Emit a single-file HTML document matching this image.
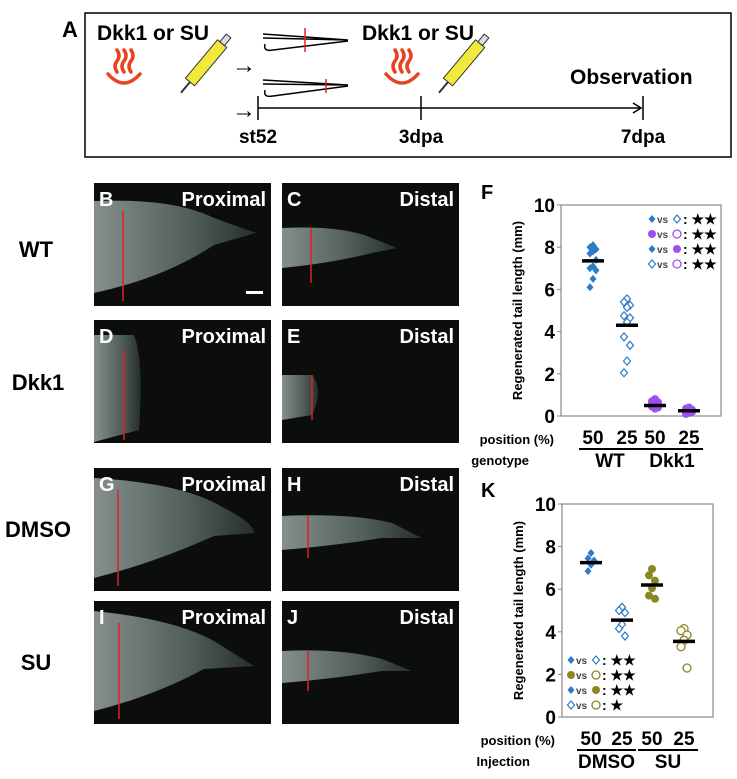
<!DOCTYPE html>
<html><head><meta charset="utf-8"><style>
body{margin:0;background:#fff;}
svg{display:block;font-family:"Liberation Sans",Arial,sans-serif;}
</style></head><body>
<svg id="fig" width="737" height="779" viewBox="0 0 737 779">
<defs>
<linearGradient id="tg" x1="0" x2="1" y1="0" y2="0"><stop offset="0" stop-color="#9aa6a4"/><stop offset="0.6" stop-color="#5d6a68"/><stop offset="1" stop-color="#2a3433"/></linearGradient>
</defs>
<g>
<text x="62" y="37" font-size="22" font-weight="bold">A</text>
<rect x="85" y="13" width="646" height="144" fill="none" stroke="#000" stroke-width="1.5"/>
<text x="97" y="40" font-size="21" font-weight="bold">Dkk1 or SU</text>
<text x="362" y="40" font-size="21" font-weight="bold">Dkk1 or SU</text>
<g fill="none" stroke="#e8431e" stroke-width="3.5" stroke-linecap="round">
<path d="M108 74 q16 18 32 0"/><path d="M117 72 q-4 -6 0 -11 q4 -5 0 -11"/><path d="M124 72 q-4 -6 0 -11 q4 -5 0 -11"/><path d="M131 72 q-4 -6 0 -11 q4 -5 0 -11"/></g>
<g fill="none" stroke="#e8431e" stroke-width="3.5" stroke-linecap="round">
<path d="M386 74 q16 18 32 0"/><path d="M395 72 q-4 -6 0 -11 q4 -5 0 -11"/><path d="M402 72 q-4 -6 0 -11 q4 -5 0 -11"/><path d="M409 72 q-4 -6 0 -11 q4 -5 0 -11"/></g>
<g><g transform="translate(190,82) rotate(-50)"><rect x="0" y="-6" width="50" height="12" fill="#f2ea3a" stroke="#333"/><line x1="-14" y1="0" x2="0" y2="0" stroke="#333" stroke-width="2"/><rect x="50" y="-3" width="10" height="6" fill="#ddd" stroke="#333"/></g></g>
<g><g transform="translate(448,82) rotate(-50)"><rect x="0" y="-6" width="50" height="12" fill="#f2ea3a" stroke="#333"/><line x1="-14" y1="0" x2="0" y2="0" stroke="#333" stroke-width="2"/><rect x="50" y="-3" width="10" height="6" fill="#ddd" stroke="#333"/></g></g>
<text x="232" y="73" font-size="24">→</text>
<text x="232" y="118" font-size="24">→</text>
<g fill="none" stroke="#000" stroke-width="1.5"><path d="M263 34 L348 40 L263 38"/><path d="M265 44 q-2 8 8 6 L348 41"/><line x1="305" y1="28" x2="305" y2="52" stroke="#e02020"/></g>
<g fill="none" stroke="#000" stroke-width="1.5"><path d="M263 80 L348 85 L263 84"/><path d="M265 90 q-2 8 8 6 L348 86"/><line x1="326" y1="79" x2="326" y2="93" stroke="#e02020"/></g>
<text x="570" y="84" font-size="21" font-weight="bold">Observation</text>
<line x1="258" y1="108" x2="640" y2="108" stroke="#000" stroke-width="1.5"/>
<path d="M633 103 L641 108 L633 113" fill="none" stroke="#000" stroke-width="1.5"/>
<line x1="258" y1="96" x2="258" y2="120" stroke="#000" stroke-width="1.5"/>
<line x1="421" y1="96" x2="421" y2="120" stroke="#000" stroke-width="1.5"/>
<line x1="643" y1="96" x2="643" y2="120" stroke="#000" stroke-width="1.5"/>
<text x="258" y="143" font-size="19" font-weight="bold" text-anchor="middle">st52</text>
<text x="421" y="143" font-size="19" font-weight="bold" text-anchor="middle">3dpa</text>
<text x="643" y="143" font-size="19" font-weight="bold" text-anchor="middle">7dpa</text>
</g>
<g font-size="22" font-weight="bold" text-anchor="middle">
<text x="36" y="257">WT</text>
<text x="38" y="390">Dkk1</text>
<text x="38" y="537">DMSO</text>
<text x="36" y="670">SU</text>
</g>
<g id="photos"></g>
<g id="chartF"></g>
<g id="chartK"></g>
</svg>
<script>
const NS="http://www.w3.org/2000/svg";
function mk(parent,tag,attrs,txt){const e=document.createElementNS(NS,tag);for(const k in attrs)e.setAttribute(k,attrs[k]);if(txt!==undefined)e.textContent=txt;parent.appendChild(e);return e;}
const photos=[
["B","Proximal",94,183,"M0 18 Q80 15 120 35 L162 50 L120 62 Q70 95 0 110 Z",29,28,118],
["C","Distal",282,183,"M0 45 Q60 42 90 55 L115 65 L90 70 Q50 80 0 85 Z",29,45,100],
["D","Proximal",94,320,"M0 15 L40 15 Q50 40 45 110 L0 122 Z",30,30,120],
["E","Distal",282,320,"M0 55 L30 55 Q42 70 30 95 L0 100 Z",30,55,100],
["G","Proximal",94,468,"M0 10 Q90 15 130 40 Q160 55 160 65 L120 68 Q60 95 0 110 Z",24,22,118],
["H","Distal",282,468,"M0 48 Q70 45 110 55 L140 70 L100 70 Q50 78 0 82 Z",26,48,90],
["I","Proximal",94,601,"M0 10 Q80 18 120 40 L160 65 L110 68 Q60 95 0 110 Z",25,22,118],
["J","Distal",282,601,"M0 50 Q60 47 100 58 L130 70 L100 70 Q50 78 0 82 Z",26,50,90]];
const pg=document.getElementById('photos');
photos.forEach(p=>{
 const g=mk(pg,'g',{transform:`translate(${p[2]},${p[3]})`});
 
 
 mk(g,'rect',{x:0,y:0,width:177,height:123,fill:'#0c0e0e'});
 mk(g,'path',{d:p[4],fill:'url(#tg)',opacity:0.85});
 mk(g,'line',{x1:p[5],x2:p[5],y1:p[6],y2:p[7],stroke:'#e02020','stroke-width':1.5});
 mk(g,'text',{x:5,y:23,'font-size':20,'font-weight':'bold',fill:'#fff'},p[0]);
 mk(g,'text',{x:172,y:23,'font-size':20,'font-weight':'bold',fill:'#fff','text-anchor':'end'},p[1]);
});
const sb=mk(pg,'rect',{x:246,y:291,width:17,height:3,fill:'#fff'});



const fGroups=["WT50","WT25","Dkk50","Dkk25"];
const fPos=["50","25","50","25"];
const fWT50=[8.1,8.0,7.9,7.8,7.7,7.4,7.1,7.0,6.9,6.5,6.1];
const fWT25=[5.55,5.4,5.25,5.15,4.75,4.65,4.45,3.75,3.35,2.6,2.05];
const fDkk50=[0.8,0.7,0.65,0.6,0.55,0.5,0.45,0.45,0.4,0.35];
const fDkk25=[0.4,0.35,0.3,0.25,0.2,0.2,0.15,0.1];
const fMeans=[7.35,4.3,0.5,0.25];
const kGroups=["DMSO50","DMSO25","SU50","SU25"];
const kDMSO50=[7.7,7.45,7.35,7.15,6.85];
const kDMSO25=[5.15,5.0,4.9,4.35,4.15,3.8];
const kSU50=[6.95,6.65,6.4,6.05,5.7,5.55];
const kSU25=[4.15,4.05,3.85,3.6,3.3,2.3];
const kMeans=[7.25,4.55,6.2,3.55];
const yTicks=[0,2,4,6,8,10];

const BLUE="#2b7bc6",PURPLE="#a14ef0",OLIVE="#8c8524";
function marker(g,type,cx,cy,color,name){
 let e;
 if(type==='fd') e=mk(g,'path',{d:`M${cx} ${cy-4}L${cx+3.5} ${cy}L${cx} ${cy+4}L${cx-3.5} ${cy}Z`,fill:color});
 else if(type==='od') e=mk(g,'path',{d:`M${cx} ${cy-4}L${cx+3.5} ${cy}L${cx} ${cy+4}L${cx-3.5} ${cy}Z`,fill:'#fff',stroke:color,'stroke-width':1.2});
 else if(type==='fc') e=mk(g,'circle',{cx:cx,cy:cy,r:4,fill:color});
 else e=mk(g,'circle',{cx:cx,cy:cy,r:4,fill:'#fff',stroke:color,'stroke-width':1.3});
 
 
}
function chart(gid,L,R,T,B,xs,series,types,colors,means,groupNames,posLabels,rowLabel,grpLabels,legendX,legendY,legend){
 const g=document.getElementById(gid);
 const y=v=>B-(v/10)*(B-T);
 const frame=mk(g,'rect',{x:L,y:T,width:R-L,height:B-T,fill:'none',stroke:'#888','stroke-width':1.2});
 
 
 yTicks.forEach(t=>{
  mk(g,'line',{x1:L-4,x2:L,y1:y(t),y2:y(t),stroke:'#888'});
  const tl=mk(g,'text',{x:L-6,y:y(t)+7,'font-size':19,'font-weight':'bold','text-anchor':'end'},String(t));
  
  
 });
 const yt=mk(g,'text',{transform:`translate(${L-39},${(T+B)/2}) rotate(-90)`,'font-size':13,'font-weight':'bold','text-anchor':'middle'},'Regenerated tail length (mm)');
 
 
 series.forEach((s,i)=>{
  s.forEach((v,j)=>{const off=(j%3===0?0:(j%3===1?-3:3));marker(g,types[i],xs[i]+off,y(v),colors[i],'point-'+groupNames[i]);});
  const m=mk(g,'line',{x1:xs[i]-11,x2:xs[i]+11,y1:y(means[i]),y2:y(means[i]),stroke:'#000','stroke-width':3.5});
  
  
  const pl=mk(g,'text',{x:xs[i],y:B+28,'font-size':19,'font-weight':'bold','text-anchor':'middle'},posLabels[i]);
  
  
 });
 const r1=mk(g,'text',{x:L-7,y:B+28,'font-size':13,'font-weight':'bold','text-anchor':'end'},'position (%)');
 
 
 const r2=mk(g,'text',{x:L-32,y:B+49,'font-size':13,'font-weight':'bold','text-anchor':'end'},rowLabel);
 
 
 [[0,1],[2,3]].forEach((p,k)=>{
  mk(g,'line',{x1:xs[p[0]]-14,x2:xs[p[1]]+14,y1:B+33,y2:B+33,stroke:'#000','stroke-width':2});
  const gl=mk(g,'text',{x:(xs[p[0]]+xs[p[1]])/2,y:B+51,'font-size':19,'font-weight':'bold','text-anchor':'middle'},grpLabels[k]);
  
  
 });
 legend.forEach((row,i)=>{
  const ly=legendY+i*15;
  const lg=mk(g,'g',{});
  
  
  marker(lg,row[0],legendX,ly,row[1],'legend-marker');
  mk(lg,'text',{x:legendX+5,y:ly+4,'font-size':10,'font-weight':'bold',fill:'#444'},'vs');
  marker(lg,row[2],legendX+25,ly,row[3],'legend-marker');
  mk(lg,'text',{x:legendX+31,y:ly+5,'font-size':14,'font-weight':'bold'},': '+row[4]);
 });
}
chart('chartF',561,721,205,416,[593,627,655,689],[fWT50,fWT25,fDkk50,fDkk25],['fd','od','fc','fc'],[BLUE,BLUE,PURPLE,PURPLE],fMeans,fGroups,fPos,'genotype',['WT','Dkk1'],652,219,
 [['fd',BLUE,'od',BLUE,'★★'],['fc',PURPLE,'oc',PURPLE,'★★'],['fd',BLUE,'fc',PURPLE,'★★'],['od',BLUE,'oc',PURPLE,'★★']]);
chart('chartK',562,713,504,717,[591,622,652,684],[kDMSO50,kDMSO25,kSU50,kSU25],['fd','od','fc','oc'],[BLUE,BLUE,OLIVE,OLIVE],kMeans,kGroups,fPos,'Injection',['DMSO','SU'],571,660,
 [['fd',BLUE,'od',BLUE,'★★'],['fc',OLIVE,'oc',OLIVE,'★★'],['fd',BLUE,'fc',OLIVE,'★★'],['od',BLUE,'oc',OLIVE,'★']]);
[['F',481,199],['K',481,497]].forEach(a=>{const t=mk(document.getElementById('fig'),'text',{x:a[1],y:a[2],'font-size':20,'font-weight':'bold'},a[0]);

});
</script>
</body></html>
